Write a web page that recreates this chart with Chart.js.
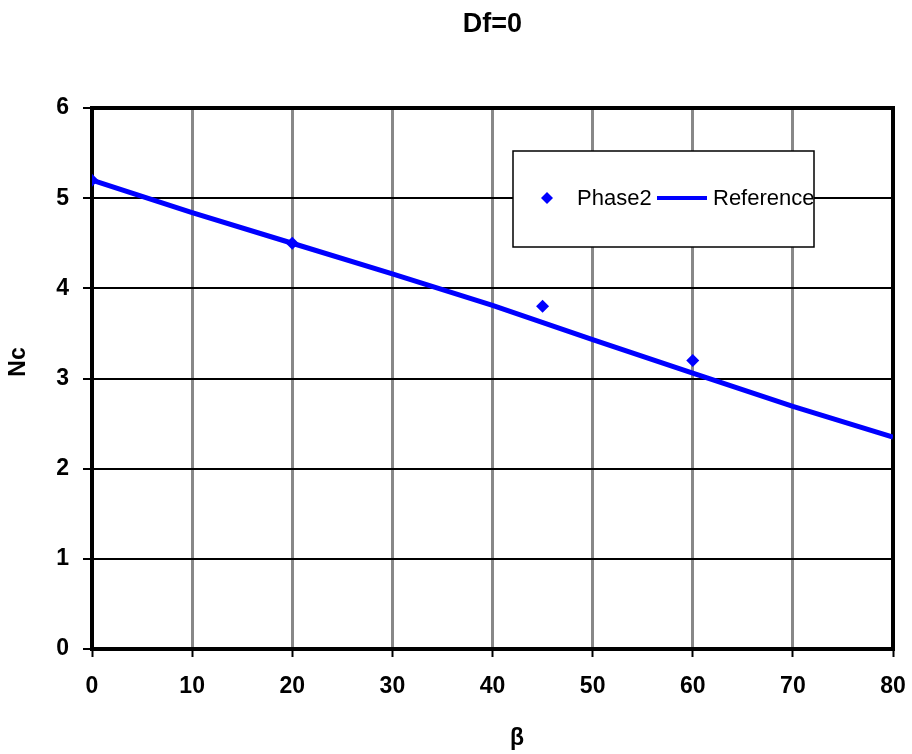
<!DOCTYPE html>
<html>
<head>
<meta charset="utf-8">
<style>
  html, body { margin: 0; padding: 0; background: #fff; }
  .wrap { width: 912px; height: 754px; }
</style>
</head>
<body>
<div class="wrap"><canvas id="chartNc" width="912" height="754"></canvas></div>
<script src="https://cdn.jsdelivr.net/npm/chart.js@4.4.1/dist/chart.umd.min.js"></script>
<script>
// values
const phaseBeta = [0, 20, 45, 60];
const phaseNc = [5.2, 4.5, 3.8, 3.2];
const refBeta = [0, 10, 20, 30, 40, 50, 60, 70, 80];
const refNc = [5.2, 4.84, 4.5, 4.16, 3.81, 3.43, 3.06, 2.69, 2.35];
const xTicks = [0, 10, 20, 30, 40, 50, 60, 70, 80];
const yTicks = [0, 1, 2, 3, 4, 5, 6];
const xTitle = 'β';
const yTitle = 'Nc';

const FONT = 'Liberation Sans, Arial, sans-serif';

// black frame round the plot area
const frame = {
    id: 'frame',
    beforeDatasetsDraw(chart) {
        const a = chart.chartArea, c = chart.ctx;
        c.save();
        c.strokeStyle = '#000';
        c.lineWidth = 4;
        c.strokeRect(a.left, a.top, a.right - a.left, a.bottom - a.top);
        c.restore();
    }
};

// axis titles sit a bit off-centre in the original, so draw them by hand
const axisTitles = {
    id: 'axisTitles',
    afterDraw(chart) {
        const c = chart.ctx;
        c.save();
        c.fillStyle = '#000';
        c.font = 'bold 23px ' + FONT;
        c.textAlign = 'center';
        c.textBaseline = 'middle';
        c.fillText(xTitle, 517, 739);
        c.translate(19, 362);
        c.rotate(-Math.PI / 2);
        c.fillText(yTitle, 0, 0);
        c.restore();
    }
};

// legend box placed inside the plot, like the original
const boxLegend = {
    id: 'boxLegend',
    afterDatasetsDraw(chart) {
        const c = chart.ctx;
        const ds = chart.data.datasets;
        c.save();
        c.fillStyle = '#fff';
        c.fillRect(513, 151, 301, 96);
        c.strokeStyle = '#000';
        c.lineWidth = 1.5;
        c.strokeRect(513, 151, 301, 96);
        // marker
        c.fillStyle = ds[0].backgroundColor;
        c.beginPath();
        c.moveTo(547, 192); c.lineTo(553, 198); c.lineTo(547, 204); c.lineTo(541, 198);
        c.closePath(); c.fill();
        c.font = '22px ' + FONT;
        c.fillStyle = '#000';
        c.textBaseline = 'middle';
        c.fillText(ds[0].label, 577, 199);
        c.strokeStyle = ds[1].borderColor;
        c.lineWidth = 4;
        c.beginPath(); c.moveTo(657, 198); c.lineTo(707, 198); c.stroke();
        c.fillText(ds[1].label, 713, 199);
        c.restore();
    }
};

new Chart(document.getElementById('chartNc'), {
    type: 'scatter',
    data: {
        datasets: [
            {
                label: 'Phase2',
                data: phaseBeta.map((b, i) => ({x: b, y: phaseNc[i]})),
                pointStyle: 'rectRot',
                pointRadius: 6.5,
                backgroundColor: '#0000FF',
                borderColor: '#0000FF',
                borderWidth: 0,
                showLine: false,
                order: 0
            },
            {
                label: 'Reference',
                data: refBeta.map((b, i) => ({x: b, y: refNc[i]})),
                showLine: true,
                borderColor: '#0000FF',
                backgroundColor: '#0000FF',
                borderWidth: 5,
                pointRadius: 0,
                order: 1
            }
        ]
    },
    options: {
        responsive: false,
        animation: false,
        layout: { padding: { left: 0, right: 19, top: 0, bottom: 0 } },
        plugins: {
            legend: { display: false },
            tooltip: { enabled: false },
            title: {
                display: true,
                text: 'Df=0',
                fullSize: false,
                color: '#000',
                font: { family: FONT, size: 27, weight: 'bold' },
                padding: { top: 8, bottom: 67.6 }
            }
        },
        scales: {
            x: {
                type: 'linear',
                min: 0,
                max: 80,
                afterBuildTicks: s => { s.ticks = xTicks.map(v => ({value: v})); },
                afterFit: s => { s.height = 105; s.paddingLeft = 0; s.paddingRight = 0; },
                grid: { color: '#888', lineWidth: 3, tickLength: 8, tickColor: '#000', tickWidth: 2 },
                border: { display: false },
                ticks: { color: '#000', padding: 16, maxRotation: 0, font: { family: FONT, size: 23, weight: 'bold' } }
            },
            y: {
                min: 0,
                max: 6,
                afterBuildTicks: s => { s.ticks = yTicks.map(v => ({value: v})); },
                afterFit: s => { s.width = 92; s.paddingTop = 0; s.paddingBottom = 0; },
                grid: { color: '#000', lineWidth: 2, tickLength: 9, tickColor: '#000', tickWidth: 2 },
                border: { display: false },
                ticks: { color: '#000', padding: 14, font: { family: FONT, size: 23, weight: 'bold' } }
            }
        }
    },
    plugins: [frame, boxLegend, axisTitles]
});
</script>
</body>
</html>
